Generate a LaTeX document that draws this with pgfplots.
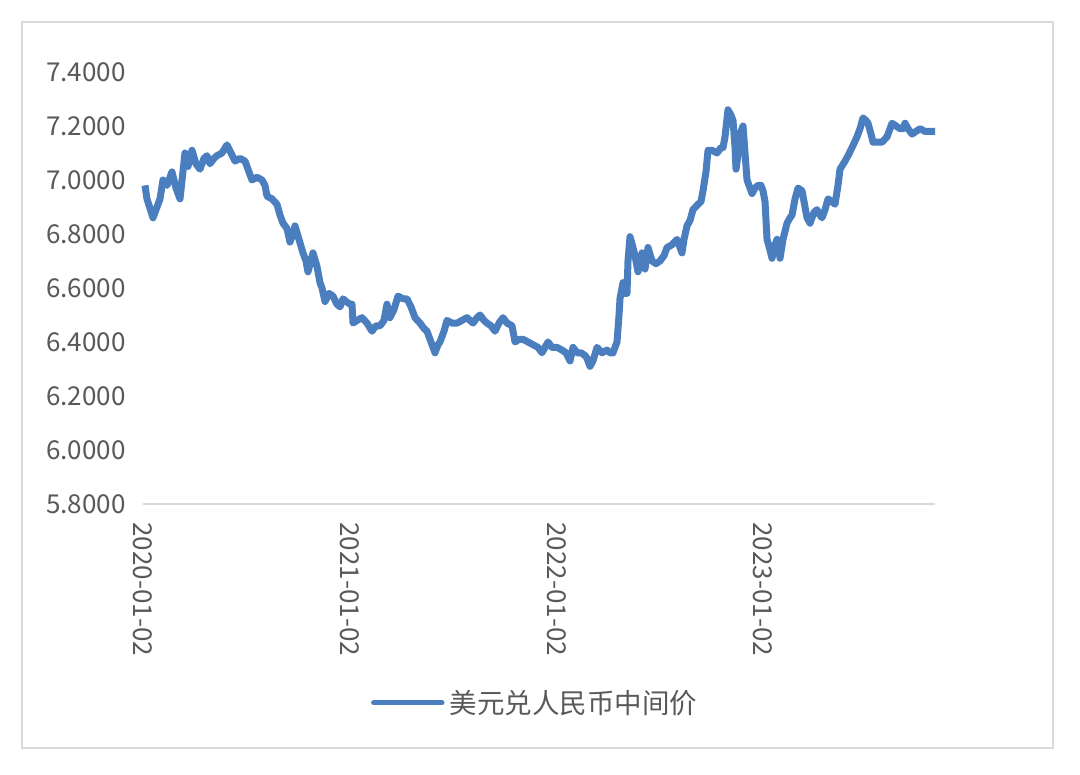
\documentclass[border=0pt]{standalone}
\usepackage{pgfplots}
\pgfplotsset{compat=1.18}
\usepackage{pgfplotstable}
\usepackage{fontspec}
\setmainfont{Noto Sans CJK SC}
\definecolor{linec}{RGB}{74,126,190}
\definecolor{txt}{RGB}{89,89,89}
\definecolor{frame}{RGB}{217,217,217}
\pgfplotstableread{
px v
145 6.98
147 6.93
153 6.86
160 6.93
163 7.00
167 6.98
172 7.03
176 6.97
180 6.93
185 7.10
188 7.05
192 7.11
196 7.06
200 7.04
204 7.08
207 7.09
210 7.06
214 7.08
217 7.09
222 7.10
227 7.13
231 7.10
235 7.07
240 7.08
245 7.07
249 7.03
252 7.00
257 7.01
262 7.00
265 6.98
267 6.94
272 6.93
277 6.91
280 6.87
283 6.84
287 6.82
290 6.77
293 6.80
295 6.83
299 6.78
303 6.73
306 6.70
308 6.66
311 6.70
313 6.73
317 6.68
320 6.62
322 6.60
325 6.55
329 6.58
333 6.57
337 6.54
340 6.53
343 6.56
346 6.55
350 6.54
352 6.54
353 6.47
357 6.48
362 6.49
367 6.47
372 6.44
376 6.46
380 6.46
384 6.48
387 6.54
390 6.49
394 6.52
398 6.57
403 6.56
407 6.56
411 6.53
415 6.49
420 6.47
424 6.45
427 6.44
431 6.40
435 6.36
438 6.39
440 6.40
444 6.44
447 6.48
452 6.47
457 6.47
462 6.48
467 6.49
470 6.48
473 6.47
477 6.49
480 6.50
484 6.48
487 6.47
491 6.46
495 6.44
499 6.47
503 6.49
507 6.47
512 6.46
515 6.40
519 6.41
523 6.41
528 6.40
533 6.39
538 6.38
542 6.36
545 6.38
548 6.40
552 6.38
557 6.38
562 6.37
566 6.36
570 6.33
573 6.38
577 6.36
581 6.36
585 6.35
587 6.34
590 6.31
593 6.33
597 6.38
602 6.36
607 6.37
610 6.36
613 6.36
617 6.40
619 6.50
620 6.56
623 6.62
625 6.58
627 6.58
628 6.70
630 6.79
633 6.75
635 6.72
638 6.66
642 6.73
645 6.67
648 6.75
652 6.70
656 6.69
660 6.70
664 6.72
667 6.75
672 6.76
677 6.78
682 6.73
684 6.78
687 6.83
690 6.85
693 6.89
698 6.91
701 6.92
703 6.96
706 7.03
708 7.11
712 7.11
717 7.10
721 7.12
723 7.12
725 7.16
728 7.26
731 7.24
733 7.22
735 7.12
736 7.04
739 7.12
741 7.18
743 7.20
745 7.10
747 7.00
750 6.97
752 6.95
755 6.97
758 6.98
761 6.98
763 6.96
765 6.92
767 6.78
770 6.74
772 6.71
775 6.76
777 6.78
779 6.76
780 6.71
783 6.78
787 6.84
790 6.86
792 6.87
795 6.93
798 6.97
802 6.96
805 6.90
807 6.86
810 6.84
814 6.88
817 6.89
820 6.87
822 6.86
825 6.89
828 6.93
832 6.92
835 6.91
838 6.98
840 7.04
845 7.07
848 7.09
852 7.12
857 7.16
860 7.19
863 7.23
866 7.22
868 7.21
871 7.17
873 7.14
878 7.14
882 7.14
887 7.16
890 7.19
892 7.21
896 7.20
900 7.19
903 7.19
905 7.21
908 7.19
912 7.17
916 7.18
920 7.19
925 7.18
930 7.18
935 7.18
}\rate
\begin{document}
\begin{tikzpicture}
\fill[white] (0,0) rectangle (1080pt,775pt);
\draw[frame, line width=1.5pt] (22pt,27pt) rectangle (1053pt,753pt);
\begin{axis}[
  at={(143pt,271pt)}, anchor=south west,
  scale only axis, width=792pt, height=432pt,
  xmin=2020, xmax=2023.832, ymin=5.8, ymax=7.4,
  ytick={5.8,6.0,...,7.4},
  xtick={2020,2021,2022,2023},
  xticklabels={2020-01-02,2021-01-02,2022-01-02,2023-01-02},
  axis x line*=bottom, axis y line*=left,
  y axis line style={draw=none},
  x axis line style={draw=frame, line width=1.5pt, -},
  major tick length=0pt,
  tick style={draw=none},
  font=\fontsize{26}{30}\selectfont,
  tick label style={text=txt},
  /pgf/number format/assume math mode=true,
  yticklabel style={/pgf/number format/fixed, /pgf/number format/fixed zerofill, /pgf/number format/precision=4, xshift=-14pt},
  xticklabel style={rotate=-90, anchor=west, xshift=15pt},
  clip=false,
  legend style={at={(0.495,-0.46)}, anchor=center, draw=none, fill=none,
    font=\fontsize{27.5}{31}\selectfont, text=txt},
  legend image code/.code={\draw[#1, line width=5.5pt, line cap=round] (0pt,0pt) -- (68pt,0pt);},
]
\addplot[linec, line width=7pt, line join=round] table[x expr={2020+(\thisrow{px}-143)/206.67}, y=v] {\rate};
\addlegendentry{\hspace{3pt}美元兑人民币中间价}
\end{axis}
\end{tikzpicture}
\end{document}
